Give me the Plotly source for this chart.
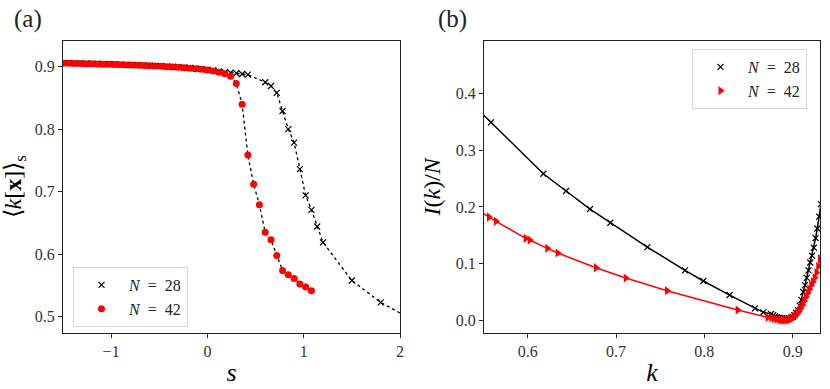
import plotly.graph_objects as go
from plotly.subplots import make_subplots

# panel (a): <k[x]>_s versus s
S_FLAT = [-1.50, -1.44, -1.38, -1.32, -1.26, -1.20, -1.14, -1.08, -1.02, -0.96,
          -0.90, -0.84, -0.78, -0.72, -0.66, -0.60, -0.54, -0.48, -0.42, -0.36,
          -0.30, -0.24, -0.18, -0.12, -0.06, 0.00, 0.06, 0.12, 0.18, 0.24]
K42_FLAT = [0.9055, 0.9053, 0.9051, 0.9049, 0.9047, 0.9045, 0.9043, 0.9040, 0.9037, 0.9034,
            0.9031, 0.9028, 0.9025, 0.9022, 0.9018, 0.9014, 0.9010, 0.9005, 0.9000, 0.8995,
            0.8989, 0.8983, 0.8976, 0.8968, 0.8958, 0.8947, 0.8932, 0.8912, 0.8885, 0.8848]
K28_FLAT = [0.9058, 0.9056, 0.9054, 0.9052, 0.9050, 0.9048, 0.9046, 0.9043, 0.9040, 0.9037,
            0.9034, 0.9031, 0.9028, 0.9025, 0.9021, 0.9017, 0.9013, 0.9008, 0.9003, 0.8998,
            0.8992, 0.8986, 0.8979, 0.8971, 0.8961, 0.8950, 0.8938, 0.8925, 0.8912, 0.8902]

S42_DROP = [0.30, 0.36, 0.42, 0.48, 0.54, 0.60, 0.66, 0.72, 0.78, 0.84, 0.90, 0.96, 1.02, 1.08]
K42_DROP = [0.873, 0.840, 0.7585, 0.712, 0.679, 0.635, 0.623, 0.598, 0.574, 0.567,
            0.561, 0.5524, 0.5476, 0.5417]

S28_DROP = [0.30, 0.36, 0.42, 0.60, 0.66, 0.72, 0.78, 0.84, 0.90, 0.96, 1.02, 1.08,
            1.14, 1.20, 1.50, 1.80]
K28_DROP = [0.8894, 0.8883, 0.8872, 0.875, 0.869, 0.858, 0.829, 0.800, 0.7786, 0.736,
            0.694, 0.671, 0.6444, 0.619, 0.558, 0.523]
# dotted guide runs on past the last marker
S28_TAIL = [2.10]
K28_TAIL = [0.4975]

# panel (b): I(k)/N versus k
K28_B = [0.5584, 0.6177, 0.6434, 0.6706, 0.6936, 0.7355, 0.7781, 0.7989, 0.8287, 0.8574,
         0.8668, 0.8755, 0.878, 0.880, 0.882, 0.884, 0.886, 0.888, 0.890, 0.892,
         0.894, 0.896, 0.898, 0.900, 0.902, 0.904, 0.906, 0.908, 0.910, 0.912,
         0.914, 0.916, 0.918, 0.920, 0.922, 0.924, 0.926, 0.928, 0.930, 0.932]
I28_B = [0.3494, 0.2587, 0.2282, 0.1964, 0.1722, 0.1293, 0.0882, 0.0694, 0.0446, 0.0212,
         0.0141, 0.0111, 0.0090, 0.0070, 0.0055, 0.0045, 0.0040, 0.0035, 0.0033, 0.0030,
         0.0030, 0.0035, 0.0045, 0.0060, 0.0090, 0.0130, 0.0180, 0.0260, 0.0360, 0.0500,
         0.0620, 0.0750, 0.0880, 0.1020, 0.1140, 0.1280, 0.1450, 0.1620, 0.1830, 0.2050]

K42_B = [0.5562, 0.5641, 0.5977, 0.6023, 0.6222, 0.6340, 0.6773, 0.7110, 0.7578, 0.8378,
         0.8718, 0.876, 0.879, 0.882, 0.885, 0.887, 0.889, 0.891, 0.893, 0.895,
         0.897, 0.899, 0.901, 0.903, 0.905, 0.907, 0.909, 0.911, 0.913, 0.915,
         0.917, 0.919, 0.921, 0.923, 0.925, 0.927, 0.929, 0.931]
I42_B = [0.1823, 0.1747, 0.1447, 0.1417, 0.1270, 0.1188, 0.0928, 0.0746, 0.0522, 0.0182,
         0.0053, 0.0045, 0.0030, 0.0020, 0.0012, 0.0008, 0.0005, 0.0004, 0.0005, 0.0008,
         0.0015, 0.0030, 0.0050, 0.0080, 0.0120, 0.0160, 0.0210, 0.0270, 0.0340, 0.0410,
         0.0480, 0.0550, 0.0620, 0.0680, 0.0750, 0.0840, 0.0950, 0.1090]
# solid curves start at the left frame
K_EDGE = [0.545]
I28_EDGE = [0.370]
I42_EDGE = [0.193]

W, H = 830, 389
SERIF = "Liberation Serif"
NB = "\u00a0\u00a0"
NAME28 = f"<i>N</i>{NB}={NB}28"
NAME42 = f"<i>N</i>{NB}={NB}42"

fig = make_subplots(rows=1, cols=2)

s28 = S_FLAT + S28_DROP
k28 = K28_FLAT + K28_DROP
s42 = S_FLAT + S42_DROP
k42 = K42_FLAT + K42_DROP

dotted = dict(color="black", width=1.3, dash="dot")
fig.add_trace(go.Scatter(x=s28 + S28_TAIL, y=k28 + K28_TAIL, mode="lines", line=dotted,
                         showlegend=False, hoverinfo="skip"), row=1, col=1)
fig.add_trace(go.Scatter(x=s42, y=k42, mode="lines", line=dotted,
                         showlegend=False, hoverinfo="skip"), row=1, col=1)
fig.add_trace(go.Scatter(x=s28, y=k28, mode="markers", name=NAME28,
                         marker=dict(symbol="x-thin", size=6, line=dict(color="black", width=1.2)),
                         legend="legend"), row=1, col=1)
fig.add_trace(go.Scatter(x=s42, y=k42, mode="markers", name=NAME42,
                         marker=dict(symbol="circle", size=7, color="#ff0000"),
                         legend="legend"), row=1, col=1)

fig.add_trace(go.Scatter(x=K_EDGE + K28_B, y=I28_EDGE + I28_B, mode="lines",
                         line=dict(color="black", width=1.5),
                         showlegend=False, hoverinfo="skip"), row=1, col=2)
fig.add_trace(go.Scatter(x=K28_B, y=I28_B, mode="markers", name=NAME28,
                         marker=dict(symbol="x-thin", size=6, line=dict(color="black", width=1.2)),
                         legend="legend2"), row=1, col=2)
fig.add_trace(go.Scatter(x=K_EDGE + K42_B, y=I42_EDGE + I42_B, mode="lines",
                         line=dict(color="#ff0000", width=1.5),
                         showlegend=False, hoverinfo="skip"), row=1, col=2)
fig.add_trace(go.Scatter(x=K42_B, y=I42_B, mode="markers", name=NAME42,
                         marker=dict(symbol="triangle-right", size=8, color="#ff0000"),
                         legend="legend2"), row=1, col=2)

axis_style = dict(
    showline=True, linecolor="#222", linewidth=1.2, mirror=True,
    ticks="outside", ticklen=4, tickwidth=1, tickcolor="#222",
    showgrid=False, zeroline=False,
    tickfont=dict(family=SERIF, size=16, color="#333"),
    automargin=False,
)
y_dom = [(H - 333) / H, (H - 40.7) / H]

fig.update_xaxes(axis_style)
fig.update_yaxes(axis_style)
fig.update_xaxes(row=1, col=1, domain=[63 / W, 400 / W], range=[-1.5, 2.0],
                 tickvals=[-1, 0, 1, 2], ticktext=["\u22121", "0", "1", "2"],
                 title=dict(text="<i>s</i>", font=dict(family=SERIF, size=26, color="black"),
                            standoff=3))
fig.update_yaxes(row=1, col=1, domain=y_dom, range=[0.474, 0.9415],
                 tickvals=[0.5, 0.6, 0.7, 0.8, 0.9], tickformat=".1f",
                 title=dict(text="\u27e8<i>k</i>[<b>x</b>]\u27e9<sub>s</sub>",
                            font=dict(family=SERIF, size=24, color="black"), standoff=10))
fig.update_xaxes(row=1, col=2, domain=[484 / W, 820 / W], range=[0.5505, 0.931],
                 tickvals=[0.6, 0.7, 0.8, 0.9], tickformat=".1f",
                 title=dict(text="<i>k</i>", font=dict(family=SERIF, size=26, color="black"),
                            standoff=3))
fig.update_yaxes(row=1, col=2, domain=y_dom, range=[-0.0224, 0.4935],
                 tickvals=[0.0, 0.1, 0.2, 0.3, 0.4], tickformat=".1f",
                 title=dict(text="<i>I</i>(<i>k</i>)/<i>N</i>",
                            font=dict(family=SERIF, size=24, color="black"), standoff=8))

for label, xpos in (("(a)", 28), ("(b)", 452)):
    fig.add_annotation(text=label, xref="paper", yref="paper", x=xpos / W, y=1 - 19 / H,
                       xanchor="center", yanchor="middle", showarrow=False,
                       font=dict(family=SERIF, size=25, color="#222"))

legend_style = dict(
    xanchor="left", yanchor="top", bgcolor="rgba(255,255,255,0.8)",
    bordercolor="#d4d4d4", borderwidth=1, itemwidth=45,
    font=dict(family=SERIF, size=16, color="#222"), tracegroupgap=0,
)
fig.update_layout(
    width=W, height=H,
    margin=dict(l=0, r=0, t=0, b=0),
    plot_bgcolor="white", paper_bgcolor="white",
    legend=dict(legend_style, x=73 / W, y=1 - 267 / H),
    legend2=dict(legend_style, x=692 / W, y=1 - 49 / H),
)

# drop the page's default body margin so the figure sits at the window origin
fig.write_html("out.html", config={"displayModeBar": False},
               post_script="document.body.style.margin='0';")
